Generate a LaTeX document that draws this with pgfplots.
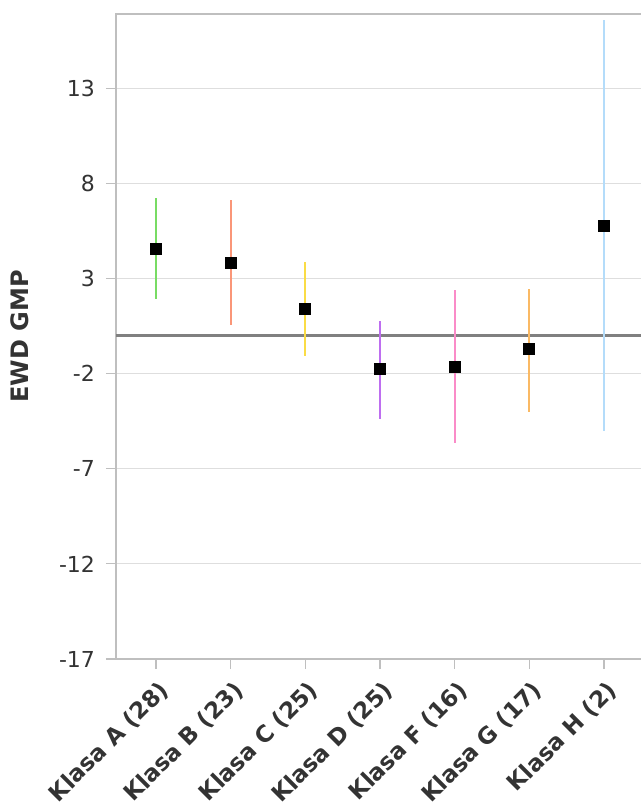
\documentclass[border=0pt]{standalone}
\usepackage{pgfplots}
\pgfplotsset{compat=1.18}
\usepackage{fontspec}
\setmainfont{DejaVu Sans}
\definecolor{cA}{RGB}{120,220,100}
\definecolor{cB}{RGB}{250,150,120}
\definecolor{cC}{RGB}{250,220,70}
\definecolor{cD}{RGB}{190,110,240}
\definecolor{cF}{RGB}{250,140,200}
\definecolor{cG}{RGB}{250,185,100}
\definecolor{cH}{RGB}{180,220,250}
\definecolor{txt}{RGB}{51,51,51}
\pgfplotsset{ebar/.style={no marks, draw=none, solid, error bars/.cd, y dir=both, y explicit, error mark=none, error bar style={solid, draw=#1, line width=1.1pt}}}
\begin{document}
\begin{tikzpicture}
\begin{axis}[
  name=ax,
  at={(0,0)}, anchor=south west,
  scale only axis,
  width=272pt, height=322.5pt,
  xmin=-0.536, xmax=6.75,
  ymin=-17, ymax=16.9,
  ytick={-17,-12,-7,-2,3,8,13},
  xtick={0,1,2,3,4,5,6},
  xtick pos=bottom, ytick pos=left,
  xticklabels={Klasa A (28),Klasa B (23),Klasa C (25),Klasa D (25),Klasa F (16),Klasa G (17),Klasa H (2)},
  x tick label style={rotate=45, anchor=north east, font=\fontsize{11.5}{14}\selectfont\bfseries, text=txt, inner sep=1pt, yshift=-3pt, xshift=-2pt},
  y tick label style={font=\fontsize{11}{13}\selectfont, text=txt, xshift=-2pt},
  /pgf/number format/assume math mode=true,
  ylabel={EWD GMP},
  ylabel style={at={(axis description cs:-0.1765,0.5)}, anchor=center, font=\fontsize{12}{14}\selectfont\bfseries, text=txt},
  tick align=outside,
  major tick length=5pt,
  tick style={draw=black!25, line width=0.6pt},
  axis line style={draw=black!25, line width=1pt},
  ymajorgrids,
  major grid style={draw=black!13, line width=0.6pt},
  extra y ticks={0},
  extra y tick labels={},
  extra y tick style={grid=major, major grid style={draw=black!50, line width=1.5pt}, major tick length=0pt},
  clip=false,
]
\addplot[ebar=cA] coordinates {(0,4.58) += (0,2.63) -= (0,2.68)};
\addplot[ebar=cB] coordinates {(1,3.84) += (0,3.26) -= (0,3.31)};
\addplot[ebar=cC] coordinates {(2,1.42) += (0,2.42) -= (0,2.47)};
\addplot[ebar=cD] coordinates {(3,-1.74) += (0,2.53) -= (0,2.63)};
\addplot[ebar=cF] coordinates {(4,-1.63) += (0,4.00) -= (0,4.00)};
\addplot[ebar=cG] coordinates {(5,-0.68) += (0,3.15) -= (0,3.32)};
\addplot[ebar=cH] coordinates {(6,5.74) += (0,10.84) -= (0,10.74)};
\addplot[only marks, mark=square*, mark size=2.75pt, draw=black, fill=black]
  coordinates {(0,4.58) (1,3.84) (2,1.42) (3,-1.74) (4,-1.63) (5,-0.68) (6,5.74)};
\end{axis}
\pgfresetboundingbox
\useasboundingbox ([xshift=-58pt,yshift=-75pt]ax.south west) rectangle ++(320.5pt,404.5pt);
\end{tikzpicture}
\end{document}
